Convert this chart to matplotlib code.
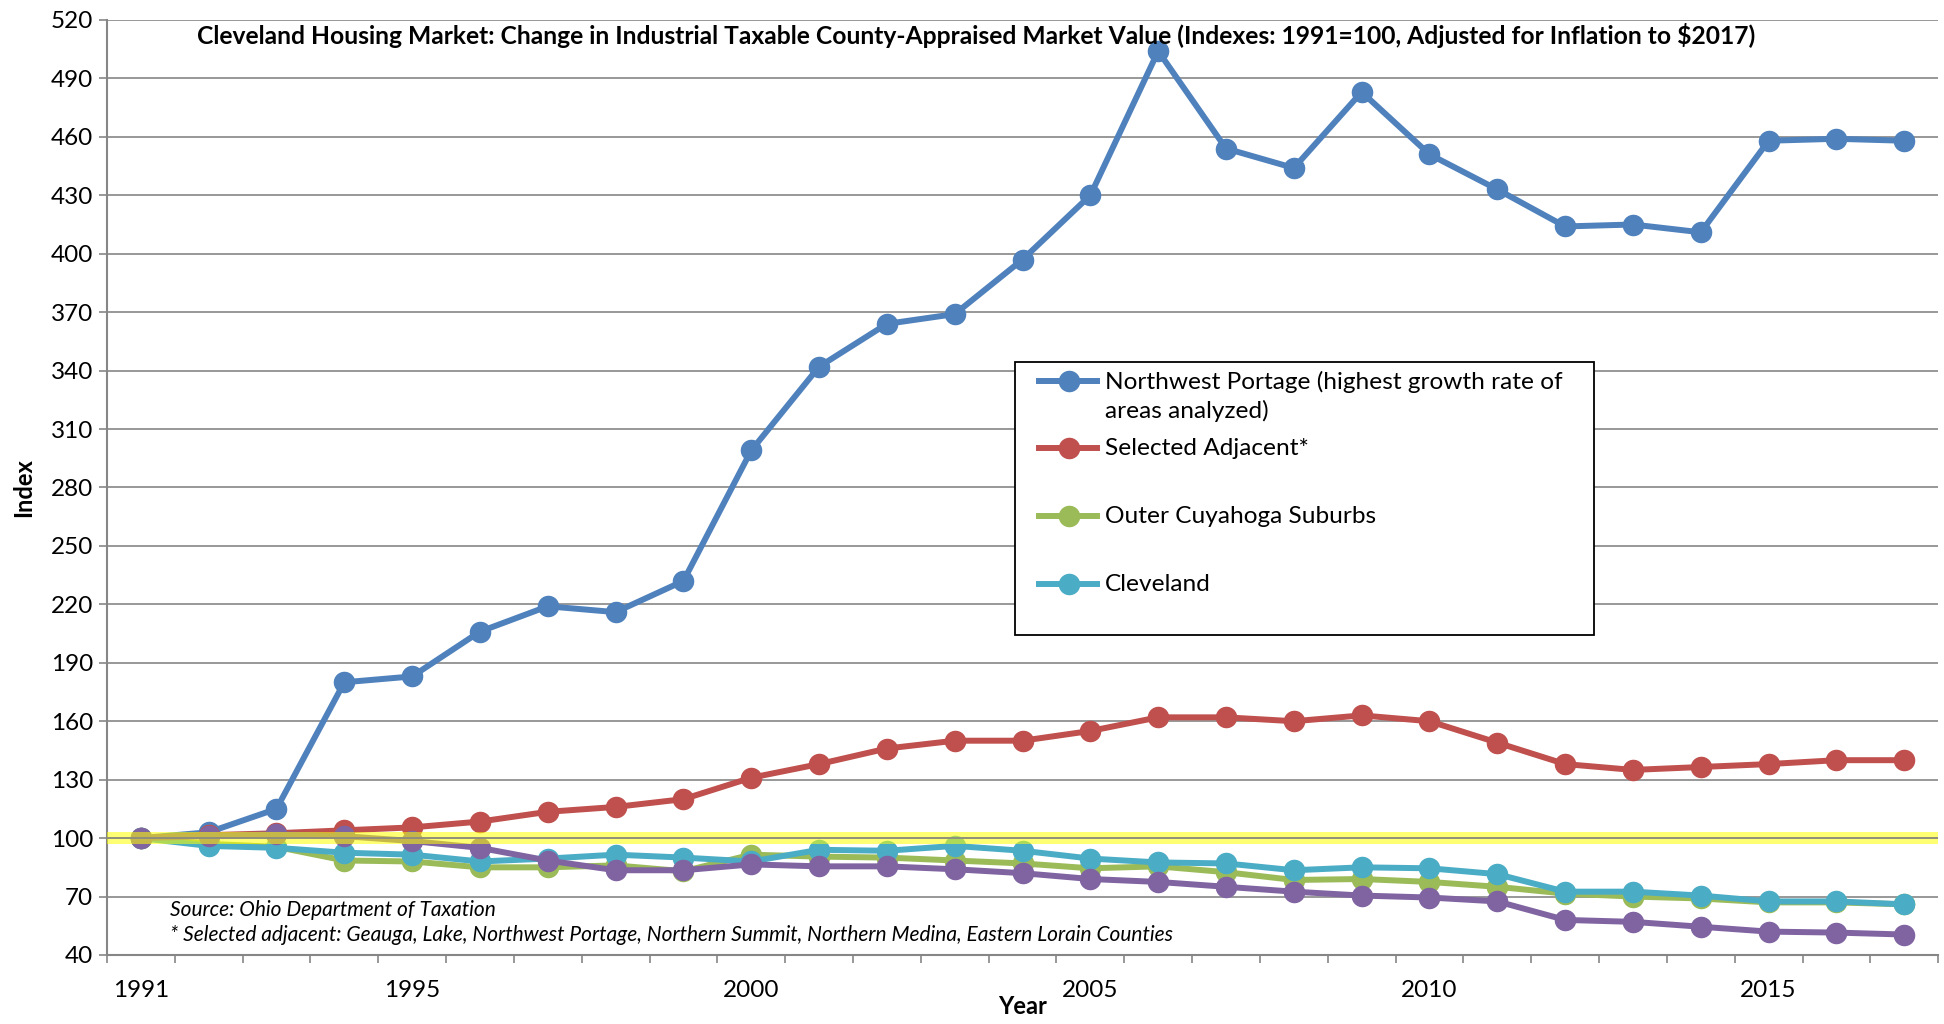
import matplotlib
matplotlib.use('Agg')
import matplotlib.pyplot as plt
from matplotlib.lines import Line2D
from matplotlib.patches import Rectangle
import numpy as np

plt.rcParams['font.family'] = ['Lato', 'DejaVu Sans']

years = list(range(1991, 2018))
year_labels = {1991: '1991', 1995: '1995', 2000: '2000', 2005: '2005', 2010: '2010', 2015: '2015'}

nw_portage = [100, 103, 115, 180, 183, 206, 219, 216, 232, 299, 342, 364, 369, 397, 430,
              504, 454, 444, 483, 451, 433, 414, 415, 411, 458, 459, 458]
selected_adj = [100, 101.5, 102.5, 104, 105.5, 108.5, 113.5, 116, 120, 131, 138, 146, 150, 150, 155,
                162, 162, 160, 163, 160, 149, 138, 135, 136.5, 138, 140, 140]
outer_cuy = [100, 97, 95.5, 88.5, 88, 85, 85, 86, 83, 91.5, 90.5, 90, 88.5, 87, 84.5,
             85.5, 82.5, 78.5, 79, 77.5, 75, 71.5, 70, 69, 67, 67, 66]
cleveland = [100, 96, 95, 92.5, 91.5, 88, 89.5, 91.5, 90, 88, 94, 93.5, 96, 93.5, 89.5,
             87.5, 87, 83.5, 85, 84.5, 81.5, 72.5, 72.5, 70.5, 67.5, 67.5, 66]
other_area = [100, 101, 102, 101, 98.5, 95, 88.5, 83.5, 83.5, 86.5, 85.5, 85.5, 84, 82, 79,
              77.5, 75, 72.5, 70.5, 69.5, 67.5, 58, 57, 54.5, 52, 51.5, 50.5]

series = [
    ('Northwest Portage (highest growth rate of\nareas analyzed)', nw_portage, '#4F81BD'),
    ('Selected Adjacent*', selected_adj, '#C0504D'),
    ('Outer Cuyahoga Suburbs', outer_cuy, '#9BBB59'),
    ('Cleveland', cleveland, '#4BACC6'),
    (None, other_area, '#8064A2'),
]

x = np.arange(len(years))
grid_c = '#868686'

fig = plt.figure(figsize=(19.44, 10.24), dpi=100)
ax = fig.add_axes([0.055, 0.0674, 0.942, 0.9131])

for i, (lab, vals, col) in enumerate(series):
    ax.plot(x, vals, color=col, lw=4.3, marker='o', ms=14.5, zorder=3 + i)

# highlight band at the 1991 base level
ax.axhspan(97, 103, color='#FFFF00', alpha=0.55, lw=0, zorder=10)
ax.axhline(100, color=grid_c, lw=1.2, zorder=11)

ax.set_xlim(-0.5, len(years) - 0.5)
ax.set_ylim(40, 520)
ax.set_yticks(np.arange(40, 521, 30))
ax.yaxis.grid(True, color=grid_c, lw=1.2)
ax.set_axisbelow(True)

ax.set_xticks(x)
ax.set_xticklabels([year_labels.get(y, '') for y in years])
ax.set_xticks(np.arange(-0.5, len(years), 1), minor=True)
ax.tick_params(axis='x', which='major', length=0, pad=18, labelsize=17.5)
ax.tick_params(axis='x', which='minor', length=6, color=grid_c, width=1.2)
ax.tick_params(axis='y', length=6, color=grid_c, width=1.2, labelsize=17.5, pad=4)

for s in ['top', 'right']:
    ax.spines[s].set_visible(False)
for s in ['left', 'bottom']:
    ax.spines[s].set_color(grid_c)
    ax.spines[s].set_linewidth(1.5)

ax.set_xlabel('Year', fontsize=17, fontweight='bold', labelpad=-4)
ax.set_ylabel('Index', fontsize=17, fontweight='bold', labelpad=11)

ax.text(0.4746, 0.983, 'Cleveland Housing Market: Change in Industrial Taxable County-Appraised Market Value '
        '(Indexes: 1991=100, Adjusted for Inflation to $2017)',
        transform=ax.transAxes, ha='center', va='center', fontsize=17.7, fontweight='bold')

ax.text(0.0344, 0.0481, 'Source: Ohio Department of Taxation', transform=ax.transAxes,
        ha='left', va='center', fontsize=15, style='italic', zorder=12)
ax.text(0.0344, 0.0214, '* Selected adjacent: Geauga, Lake, Northwest Portage, Northern Summit, '
        'Northern Medina, Eastern Lorain Counties', transform=ax.transAxes,
        ha='left', va='center', fontsize=15, style='italic', zorder=12)

# legend box, drawn by hand to keep Excel's uneven slot spacing
ax.add_patch(Rectangle((0.4959, 0.3422), 0.3162, 0.292, transform=ax.transAxes,
                       facecolor='white', edgecolor='black', lw=1.3, zorder=20))
slot_y = [0.6139, 0.5422, 0.4695, 0.3968]
for (lab, vals, col), yy in zip(series[:4], slot_y):
    ax.add_line(Line2D([0.5089, 0.5406], [yy, yy], transform=ax.transAxes, color=col,
                       lw=4.3, zorder=21))
    ax.add_line(Line2D([0.5254], [yy], transform=ax.transAxes, color=col, marker='o',
                       ms=14.5, lw=0, zorder=22))
    ax.text(0.545, yy + 0.0105, lab, transform=ax.transAxes, ha='left', va='top',
            fontsize=17.6, linespacing=1.38, zorder=23)

fig.savefig('out.png', dpi=100)
